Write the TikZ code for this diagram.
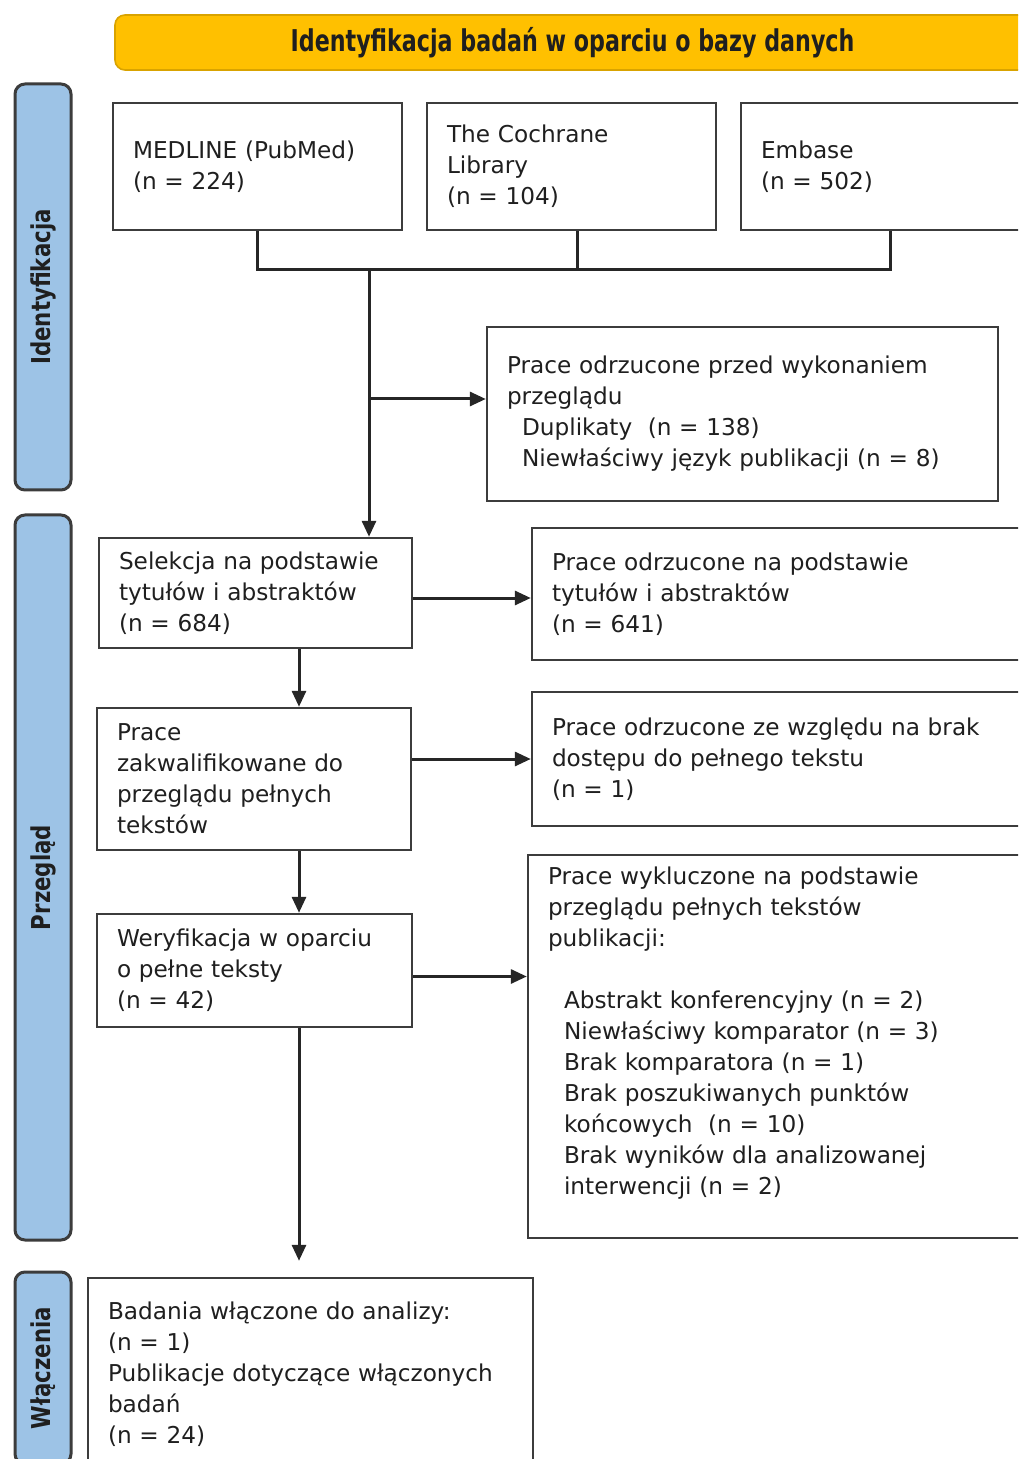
\documentclass[tikz,border=0pt]{standalone}
\usepackage{fontspec}
\setmainfont{DejaVu Sans}
\newfontfamily\bannerfont{DejaVu Sans}[FakeStretch=0.74]
\newfontfamily\barfont{DejaVu Sans}[FakeStretch=0.82]
\usetikzlibrary{arrows.meta,positioning}
\definecolor{banerzolty}{HTML}{FFC000}
\definecolor{pasekniebieski}{HTML}{9DC3E6}
\definecolor{ramka}{HTML}{3C3C3C}

\begin{document}
\begin{tikzpicture}[
        x=0.5pt, y=-0.5pt,
        every node/.style={font=\fontsize{11.6}{15.5}\selectfont, text=black!88},
        pole/.style={rectangle, draw=ramka, line width=1.2pt, align=left, inner xsep=10pt, inner ysep=2pt},
        pasek/.style={rectangle, rounded corners=5pt, draw=ramka, line width=1.5pt, fill=pasekniebieski,
            rotate=90, minimum height=28pt, font=\barfont\bfseries\fontsize{13}{15}\selectfont},
        baner/.style={rectangle, rounded corners=5pt, draw=banerzolty!85!black, line width=0.8pt, fill=banerzolty,
            minimum width=457.5pt, minimum height=27.5pt, font=\bannerfont\bfseries\fontsize{15}{18}\selectfont},
        strzalka/.style={-{Triangle[length=8pt,width=7pt]}, line width=1.5pt, draw=black!85},
        linia/.style={line width=1.5pt, draw=black!85}
    ]

        \useasboundingbox (0,0) rectangle (1018,1459);
        \fill[white] (0,0) rectangle (1018,1459);
        \clip (0,0) rectangle (1018,1459);

        %--------------------------------
        % naglowek i paski boczne
        %--------------------------------
        \node[baner] (baner) at (572.5,42.5) {Identyfikacja badań w oparciu o bazy danych};

        \foreach \nazwa/\y/\dl [count=\i] in {Identyfikacja/287/203pt, Przegląd/877.5/362.5pt, Włączenia/1368/96pt}
            \node[pasek, minimum width=\dl] (pasek\i) at (43,\y) {\nazwa};

        %--------------------------------
        % identyfikacja
        %--------------------------------
        \node[pole, text width=124.5pt, minimum height=63.5pt] (medline) at (257.5,166.5) {MEDLINE (PubMed)\\(n = 224)};
        \node[pole, text width=124.5pt, minimum height=63.5pt] (cochrane) at (571.5,166.5) {The Cochrane\\Library\\(n = 104)};
        \node[pole, text width=129pt, minimum height=63.5pt] (embase) at (890,166.5) {Embase\\(n = 502)};

        \node[pole, text width=235.5pt, minimum height=87pt] (duplikaty) at (742.5,414) {Prace odrzucone przed wykonaniem\\
            przeglądu\\
            \hspace*{7.5pt}Duplikaty\ \ (n = 138)\\
            \hspace*{7.5pt}Niewłaściwy język publikacji (n = 8)};

        %--------------------------------
        % przeglad
        %--------------------------------
        \node[pole, text width=136.5pt, minimum height=55pt] (selekcja) at (255.5,593) {Selekcja na podstawie\\tytułów i abstraktów\\(n = 684)};
        \node[pole, text width=234pt, minimum height=66pt] (tytuly) at (786,594) {Prace odrzucone na podstawie\\tytułów i abstraktów\\(n = 641)};

        \node[pole, text width=137pt, minimum height=71pt] (zakw) at (254,779) {Prace\\zakwalifikowane do\\przeglądu pełnych\\tekstów};
        \node[pole, text width=234pt, minimum height=67pt] (dostep) at (786,759) {Prace odrzucone ze względu na brak\\dostępu do pełnego tekstu\\(n = 1)};

        \node[pole, text width=137.5pt, minimum height=56.5pt] (weryf) at (254.5,970.5) {Weryfikacja w oparciu\\o pełne teksty\\(n = 42)};
        \node[pole, text width=236pt, minimum height=191.5pt] (wykl) at (784,1046.5) {Prace wykluczone na podstawie\\
            przeglądu pełnych tekstów\\
            publikacji:\\[15.5pt]
            \hspace*{8pt}Abstrakt konferencyjny (n = 2)\\
            \hspace*{8pt}Niewłaściwy komparator (n = 3)\\
            \hspace*{8pt}Brak komparatora (n = 1)\\
            \hspace*{8pt}Brak poszukiwanych punktów\\
            \hspace*{8pt}końcowych\ \ (n = 10)\\
            \hspace*{8pt}Brak wyników dla analizowanej\\
            \hspace*{8pt}interwencji (n = 2)\\
            \mbox{}};

        %--------------------------------
        % wlaczenia
        %--------------------------------
        \node[pole, text width=202.5pt, minimum height=96pt] (badania) at (310.5,1374) {Badania włączone do analizy:\\
            (n = 1)\\
            Publikacje dotyczące włączonych\\
            badań\\
            (n = 24)};

        %--------------------------------
        % polaczenia
        %--------------------------------
        \coordinate (wezel) at (369,270);
        \coordinate (odgalezienie) at (369,399);
        \coordinate (pion) at (299,0);

        \draw[linia] (medline.south) |- (embase.south |- wezel) -- (embase.south);
        \draw[linia] ([xshift=2.75pt]cochrane.south) -- ([xshift=2.75pt]cochrane.south |- wezel);

        \draw[strzalka] (wezel) -- (wezel |- selekcja.north);
        \draw[strzalka] (odgalezienie) -- (odgalezienie -| duplikaty.west);
        \draw[strzalka] ([yshift=-2.5pt]selekcja.east) -- ([yshift=-2.5pt]selekcja.east -| tytuly.west);
        \draw[strzalka] (selekcja.south -| pion) -- (zakw.north -| pion);
        \draw[strzalka] (dostep.west -| zakw.east) -- (dostep.west);
        \draw[strzalka] (zakw.south -| pion) -- (weryf.north -| pion);
        \draw[strzalka] ([yshift=-3pt]weryf.east) -- ([yshift=-3pt]weryf.east -| wykl.west);
        \draw[strzalka, shorten >=8pt] (weryf.south -| pion) -- (badania.north -| pion);

    \end{tikzpicture}
\end{document}
